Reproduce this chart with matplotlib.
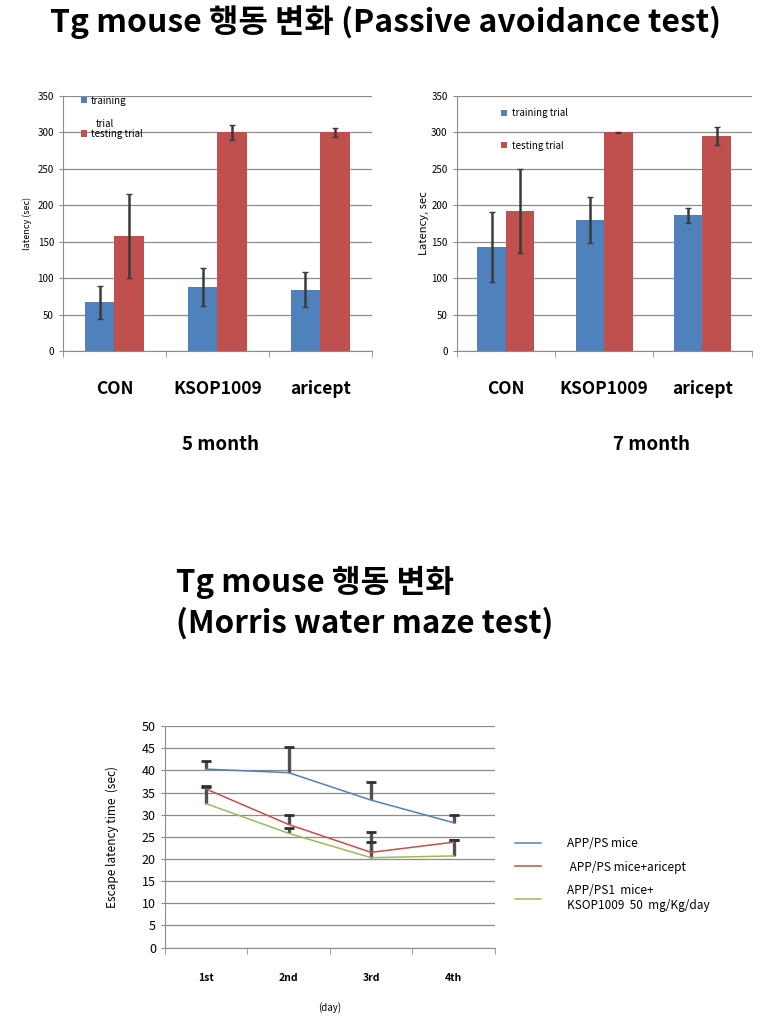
import matplotlib
matplotlib.use("Agg")
import matplotlib.pyplot as plt
import numpy as np

plt.rcParams["font.family"] = ["Noto Sans CJK KR", "DejaVu Sans"]

# Passive avoidance test
groups = ["CON", "KSOP1009", "aricept"]
train_5m = [67, 88, 84]
train_5m_err = [23, 26, 24]
test_5m = [158, 300, 300]
test_5m_err = [57, 10, 6]
train_7m = [143, 180, 186]
train_7m_err = [48, 32, 10]
test_7m = [192, 300, 295]
test_7m_err = [58, 1, 12]

# Morris water maze test
days = ["1st", "2nd", "3rd", "4th"]
app_ps = [40.3, 39.5, 33.3, 28.2]
app_ps_err = [1.8, 5.8, 4.2, 1.7]
app_aricept = [35.8, 27.8, 21.5, 23.8]
app_aricept_err = [0.7, 2.2, 4.7, 0.4]
app_ksop = [32.5, 25.8, 20.3, 20.7]
app_ksop_err = [3.7, 1.2, 3.5, 3.5]

BLUE = "#4F81BD"
RED = "#C0504D"
GREEN = "#9BBB59"
ERR = "#3a3a3a"
GRID = "#8c8c8c"


def style_axes(ax, ymax, ystep):
    ax.set_ylim(0, ymax)
    ax.set_yticks(np.arange(0, ymax + 1, ystep))
    ax.yaxis.grid(True, color=GRID, lw=0.9)
    ax.set_axisbelow(True)
    for s in ("top", "right"):
        ax.spines[s].set_visible(False)
    for s in ("left", "bottom"):
        ax.spines[s].set_color(GRID)
    ax.tick_params(axis="y", labelsize=7, length=3, color=GRID)


def bar_panel(ax, train, train_err, test, test_err, ylabel):
    x = np.arange(len(groups))
    w = 0.29
    ax.bar(x - w / 2, train, w, color=BLUE, label="training")
    ax.bar(x + w / 2, test, w, color=RED, label="testing trial")
    ax.errorbar(x - w / 2, train, yerr=train_err, fmt="none", ecolor=ERR, elinewidth=1.8, capsize=2.5)
    ax.errorbar(x + w / 2, test, yerr=test_err, fmt="none", ecolor=ERR, elinewidth=1.8, capsize=2.5)
    style_axes(ax, 350, 50)
    ax.set_xlim(-0.5, len(groups) - 0.5)
    ax.set_xticks(x)
    ax.set_xticklabels(groups, fontsize=12.5, fontweight="bold")
    ax.tick_params(axis="x", length=0, pad=21)
    ax.set_xticks(np.arange(-0.5, len(groups)), minor=True)
    ax.tick_params(axis="x", which="minor", length=4, color=GRID)
    ax.set_ylabel(ylabel, fontsize=6.5)
    return ax


fig = plt.figure(figsize=(7.78, 10.3), dpi=100)

fig.text(0.495, 0.979, "Tg mouse 행동 변화 (Passive avoidance test)",
         ha="center", va="center", fontsize=23, fontweight="bold")

ax1 = fig.add_axes([0.081, 0.659, 0.397, 0.248])
bar_panel(ax1, train_5m, train_5m_err, test_5m, test_5m_err, "latency (sec)")
ax1.legend(loc="upper left", bbox_to_anchor=(0.03, 1.035), frameon=False, fontsize=7,
           handlelength=0.6, handleheight=0.6, handletextpad=0.4, labelspacing=2.4)
ax1.text(0.105, 0.89, "trial", transform=ax1.transAxes, fontsize=7, va="center")

ax2 = fig.add_axes([0.587, 0.659, 0.379, 0.248])
bar_panel(ax2, train_7m, train_7m_err, test_7m, test_7m_err, "Latency, sec")
ax2.set_ylabel("Latency, sec", fontsize=8)
ax2.yaxis.set_label_coords(-0.095, 0.5)
h, l = ax2.get_legend_handles_labels()
ax2.legend(h, ["training trial", "testing trial"], loc="upper left", bbox_to_anchor=(0.12, 0.985),
           frameon=False, fontsize=7, handlelength=0.6, handleheight=0.6, handletextpad=0.5,
           labelspacing=2.3)

fig.text(0.284, 0.568, "5 month", ha="center", va="center", fontsize=13.5, fontweight="bold")
fig.text(0.838, 0.568, "7 month", ha="center", va="center", fontsize=13.5, fontweight="bold")

fig.text(0.226, 0.435, "Tg mouse 행동 변화", ha="left", va="center", fontsize=22.5, fontweight="bold")
fig.text(0.226, 0.395, "(Morris water maze test)", ha="left", va="center", fontsize=22.5, fontweight="bold")

ax3 = fig.add_axes([0.212, 0.080, 0.424, 0.215])
xd = np.arange(len(days))
series = [
    (app_ps, app_ps_err, BLUE, "APP/PS mice"),
    (app_aricept, app_aricept_err, RED, " APP/PS mice+aricept"),
    (app_ksop, app_ksop_err, GREEN, "APP/PS1  mice+\nKSOP1009  50  mg/Kg/day"),
]
for vals, err, col, lab in series:
    top = np.array(vals) + np.array(err)
    ax3.vlines(xd, vals, top, color="#505050", lw=2.4, zorder=2)
    ax3.plot(xd, top, ls="none", marker="_", ms=7, mew=2, color="#303030", zorder=2)
for vals, err, col, lab in series:
    ax3.plot(xd, vals, color=col, lw=1.1, label=lab, zorder=3)
style_axes(ax3, 50, 5)
ax3.set_xlim(-0.5, len(days) - 0.5)
ax3.set_xticks(xd)
ax3.set_xticklabels(days, fontsize=7.5, fontweight="bold")
ax3.tick_params(axis="x", length=0, pad=18)
ax3.set_xticks(np.arange(-0.5, len(days)), minor=True)
ax3.tick_params(axis="x", which="minor", length=4, color=GRID)
ax3.tick_params(axis="y", labelsize=9)
ax3.set_ylabel("Escape latency time  (sec)", fontsize=8.5)
ax3.yaxis.set_label_coords(-0.14, 0.5)
ax3.set_xlabel("(day)", fontsize=7, labelpad=14)
ax3.legend(loc="center left", bbox_to_anchor=(1.03, 0.33), frameon=False, fontsize=8.5,
           handlelength=2.2, handletextpad=2.2, labelspacing=0.9)

fig.savefig("out.png", dpi=100)
